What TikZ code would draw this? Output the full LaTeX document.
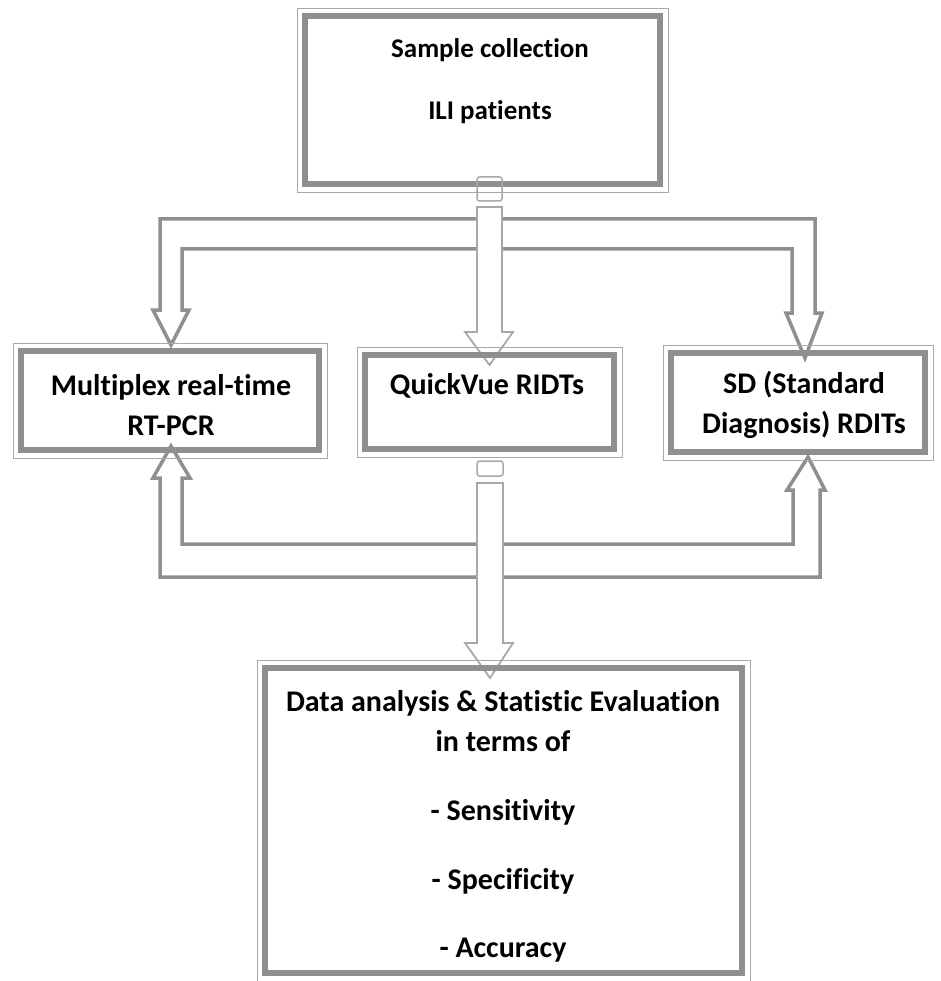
\documentclass[tikz,border=0pt]{standalone}
\usepackage{fontspec}
\setmainfont{Carlito}[Ligatures=NoCommon]
\usetikzlibrary{positioning}
\definecolor{bandgray}{gray}{0.56}
\definecolor{linegray}{gray}{0.66}
\tikzset{
  boxframe/.style={draw=bandgray,line width=6pt,inner sep=0pt,outer sep=0pt},
  boxrim/.style={draw=linegray,line width=0.9pt},
  fan/.style={draw=bandgray,line width=3.5pt,fill=white,line join=miter},
  shaft/.style={draw=linegray,line width=1.8pt,fill=white},
  stub/.style={draw=linegray,line width=1.5pt,rounded corners=2.5pt},
  boxtext/.style={font=\fontsize{30}{40}\selectfont\bfseries,align=center,inner sep=0pt}
}
\begin{document}
\begin{tikzpicture}[x=1pt,y=-1pt]
	\useasboundingbox (0,0) rectangle (940,981);
	% fan out from the sample box
	\draw[fan] (160,310)--(160,219)--(815,219)--(815,313)--(822,313)--(805,358)--(786,313)--(792,313)--(792,249)--(182,249)--(182,310)--(189,310)--(171,345)--(153,310)--cycle;
	% fan in to the analysis box
	\draw[fan] (160,478)--(160,577)--(820,577)--(820,490)--(825,490)--(808,457)--(787,490)--(793,490)--(793,544)--(182,544)--(182,478)--(190,478)--(171,446)--(153,478)--cycle;
	% straight arrows
	\draw[shaft] (477,207)--(502,207)--(502,332)--(513,332)--(489.5,365)--(465,332)--(477,332)--cycle;
	\draw[shaft] (477,483)--(503,483)--(503,643)--(513,643)--(490,678)--(465,643)--(477,643)--cycle;
	% boxes
	\node[boxframe,minimum width=355pt,minimum height=168pt] (top) at (482.5,100) {};
	\node[boxframe,minimum width=298pt,minimum height=99pt] (multi) at (170,400.5) {};
	\node[boxframe,minimum width=249pt,minimum height=94pt] (quick) at (489.5,402) {};
	\node[boxframe,minimum width=254pt,minimum height=99pt] (sd) at (798,402.5) {};
	\node[boxframe,minimum width=477pt,minimum height=305pt] (data) at (503.5,820.5) {};
	\foreach \n in {top,multi,quick,sd,data}
		\draw[boxrim] ([shift={(-8pt,8pt)}]\n.north west) rectangle ([shift={(8pt,-8pt)}]\n.south east);
	% tails of the straight arrows
	\draw[stub] (477,177) rectangle (502,201);
	\draw[stub] (477,461) rectangle (503,476);
	% texts
	\node[boxtext,font=\fontsize{27}{40}\selectfont\bfseries] (toptext) at (490,81) {Sample collection\\[22pt]ILI patients};
	\node[boxtext] (multitext) at (171,405) {Multiplex real-time\\RT-PCR};
	\node[boxtext] (quicktext) at (487,386) {QuickVue RIDTs};
	\node[boxtext] (sdtext) at (804,405) {SD (Standard\\Diagnosis) RDITs};
	\node[boxtext] (datatext) at (503,826) {Data analysis \& Statistic Evaluation\\in terms of\\[29pt]- Sensitivity\\[29pt]- Specificity\\[28pt]- Accuracy};
\end{tikzpicture}
\end{document}
